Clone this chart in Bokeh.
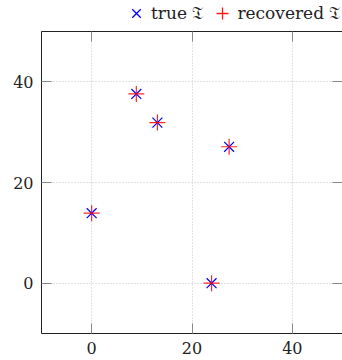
from bokeh.plotting import figure
from bokeh.layouts import column
from bokeh.models import Range1d, LinearAxis, Legend, LegendItem, FixedTicker
from bokeh.embed import file_html
from bokeh.resources import INLINE

# data
true_x = [0.0, 8.9, 13.1, 27.4, 23.9]
true_y = [13.9, 37.6, 31.9, 27.1, 0.0]
rec_x = [0.0, 8.9, 13.1, 27.4, 23.9]
rec_y = [13.9, 37.6, 31.9, 27.1, 0.0]
x_ticks = [0, 20, 40]
y_ticks = [0, 20, 40]
legend_labels = ["true \U0001D517", "recovered \U0001D517"]

FONT = "DejaVu Serif"
LEG_H = 24

p = figure(width=342, height=360 - LEG_H, output_backend="svg", toolbar_location=None,
           x_range=Range1d(-10, 50), y_range=Range1d(-10, 50),
           min_border_left=41, min_border_top=31 - LEG_H, min_border_right=0, min_border_bottom=27,
           x_axis_location=None, y_axis_location=None)
p.outline_line_color = None
p.background_fill_color = "white"
p.border_fill_color = "white"

def mk_axis(ticks, show_labels):
    ax = LinearAxis(ticker=FixedTicker(ticks=ticks))
    ax.major_tick_in = 10
    ax.major_tick_out = 0
    ax.minor_tick_line_color = None
    ax.major_tick_line_color = "#888888"
    ax.axis_line_color = "#222222"
    ax.axis_line_width = 1
    if show_labels:
        ax.major_label_text_font = FONT
        ax.major_label_text_font_size = "16px"
        ax.major_label_text_color = "#222222"
        ax.major_label_standoff = 8
    else:
        ax.major_label_overrides = {t: "" for t in ticks}
        ax.major_label_standoff = 0
    return ax

p.add_layout(mk_axis(x_ticks, True), "below")
p.add_layout(mk_axis(y_ticks, True), "left")
p.add_layout(mk_axis(x_ticks, False), "above")
p.add_layout(mk_axis(y_ticks, False), "right")

p.xgrid.ticker = FixedTicker(ticks=x_ticks)
p.ygrid.ticker = FixedTicker(ticks=y_ticks)
for g in (p.xgrid, p.ygrid):
    g.grid_line_color = "#c4c4c4"
    g.grid_line_dash = "1 2"
    g.grid_line_width = 1

p.scatter(true_x, true_y, marker="x", size=14, line_color="blue", line_width=1.2)
p.scatter(rec_x, rec_y, marker="cross", size=16, line_color="red", line_width=1.2, line_alpha=0.85)

# legend strip above the plot (its ranges keep the proxy points out of view)
lg = figure(width=342, height=LEG_H, output_backend="svg", toolbar_location=None,
            x_range=Range1d(1000, 1001), y_range=Range1d(1000, 1001), min_border=0,
            x_axis_location=None, y_axis_location=None)
lg.outline_line_color = None
lg.xgrid.visible = False
lg.ygrid.visible = False
l_true = lg.scatter(true_x, true_y, marker="x", line_color="blue", line_width=1.3)
l_rec = lg.scatter(rec_x, rec_y, marker="cross", line_color="red", line_width=1.3, line_alpha=0.9)

legend = Legend(items=[LegendItem(label=legend_labels[0], renderers=[l_true], index=0),
                       LegendItem(label=legend_labels[1], renderers=[l_rec], index=0)],
                location=(80, -4), orientation="horizontal",
                glyph_width=30, glyph_height=30, label_height=10,
                label_standoff=0, spacing=4, padding=0, margin=0,
                border_line_color=None, background_fill_alpha=0,
                label_text_font=FONT, label_text_font_size="17px",
                label_text_color="#222222")
lg.add_layout(legend, "center")

layout = column(lg, p, spacing=0)
open("out.html", "w").write(file_html(layout, INLINE))
